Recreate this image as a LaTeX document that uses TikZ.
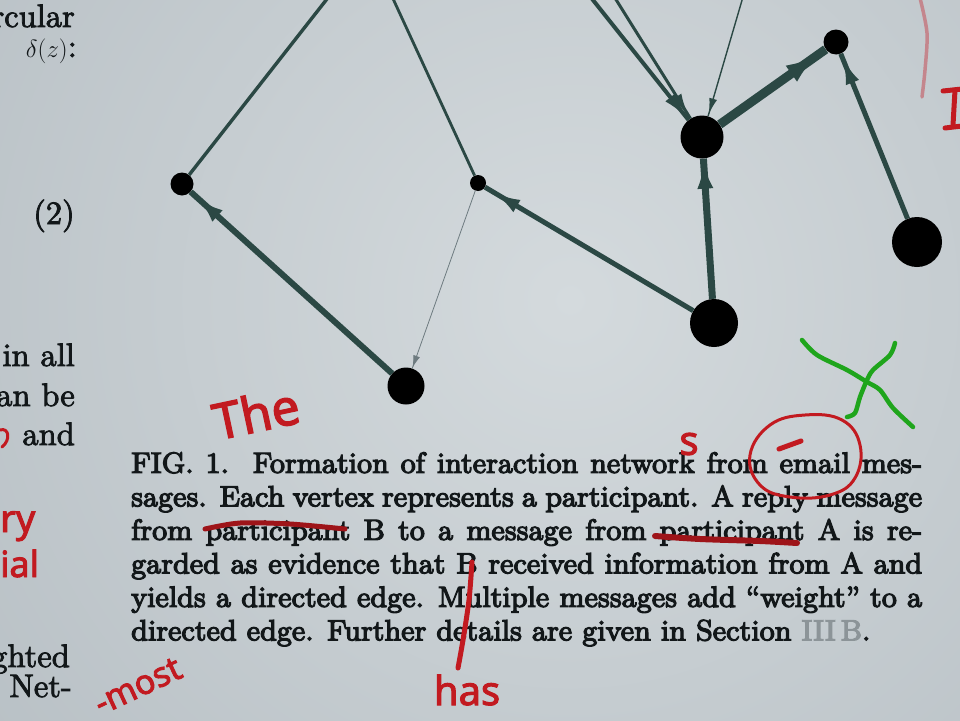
\documentclass[tikz,border=0pt]{standalone}
\usepackage{fontspec}
\newfontfamily\hand{Noto Sans}[FakeBold=2.5]
\newfontfamily\capfont{lmroman9-regular.otf}[Ligatures=TeX, FakeBold=4]
\newfontfamily\bodyfont{lmroman10-regular.otf}[Ligatures=TeX, FakeBold=2.5]
\usetikzlibrary{positioning,arrows.meta,decorations.markings}
\definecolor{paperlight}{HTML}{D4DADD}
\definecolor{paperdark}{HTML}{A9B2B8}
\definecolor{edgecol}{HTML}{2B4844}
\definecolor{faint}{HTML}{6E7B80}
\definecolor{ink}{HTML}{121719}
\definecolor{grayref}{HTML}{8C9498}
\definecolor{inkred}{HTML}{C21A20}
\definecolor{darkred}{HTML}{9E1419}
\definecolor{palered}{HTML}{C4868D}
\definecolor{marker}{HTML}{1FA51C}

\begin{document}
\begin{tikzpicture}[x=1pt, y=-1pt,
    vtx/.style={circle, fill=black, inner sep=0pt, minimum size=#1},
    link/.style={draw=edgecol, line width=#1},
    headat/.style n args={3}{postaction={decorate}, decoration={markings,
        mark=at position -#1 with {\arrow{Latex[length=#2, width=#3]}}}},
    pen/.style={draw=inkred, line width=#1, line cap=round, line join=round},
    word/.style={text=inkred, inner sep=0pt, font=\hand\fontsize{#1}{#1}\selectfont},
    margin/.style={text=ink, inner sep=0pt, anchor=base east,
        font=\bodyfont\fontsize{32.5}{39}\selectfont}]
\useasboundingbox (0,0) rectangle (960,720);
\shade[inner color=paperlight, outer color=paperdark] (570,300) circle [radius=1150pt];

% text of the page round the figure
\node[margin] (m1) at (75,27) {rcular};
\node[margin] (m2) at (77,57) {$\delta(z)$:};
\node[margin] (m3) at (75,224) {(2)};
\node[margin] (m4) at (75,366) {in all};
\node[margin] (m5) at (75,406) {an be};
\node[margin] (m6) at (75,445) {and};
\node[margin] (m7) at (70,667) {ghted};
\node[margin] (m8) at (72,697) {Net-};

% vertices
\node[vtx=23pt] (a) at (182,184) {};
\node[vtx=16pt] (b) at (478,183) {};
\node[vtx=37pt] (c) at (406,386) {};
\node[vtx=43pt] (d) at (702,137) {};
\node[vtx=25pt] (e) at (836,42) {};
\node[vtx=48pt] (f) at (714,323) {};
\node[vtx=50pt] (g) at (917,242) {};
\coordinate (ua) at (334,-10);
\coordinate (ub) at (389,-10);
\coordinate (ud1) at (585,-10);
\coordinate (ud2) at (610,-10);
\coordinate (ud3) at (745,-10);

% edges
\draw[link=3.4pt] (a) -- (ua);
\draw[link=2.8pt] (b) -- (ub);
\draw[link=6pt, headat={8pt}{28pt}{15pt}] (c) -- (a);
\draw[link=0.8pt, draw=faint, headat={1pt}{12pt}{7pt}] (b) -- (c);
\draw[link=5pt, headat={9pt}{28pt}{14pt}] (f) -- (b);
\draw[link=7pt, headat={2pt}{28pt}{16pt}] (f) -- (d);
\draw[link=9pt, headat={4pt}{38pt}{19pt}] (d) -- (e);
\draw[link=5pt, headat={3pt}{28pt}{14pt}] (g) -- (e);
\draw[link=4pt, headat={3pt}{26pt}{13pt}] (ud1) -- (d);
\draw[link=3pt, headat={4pt}{22pt}{11pt}] (ud2) -- (d);
\draw[link=1.4pt, headat={2pt}{16pt}{8pt}] (ud3) -- (d);

% caption
\node[text=ink, inner sep=0pt, anchor=north west, text width=791pt, align=justify,
      font=\capfont\fontsize{29.3}{33.5}\selectfont] (cap) at (131,452)
  {\hyphenpenalty=10000 \tolerance=9999
   FIG. 1.\ \ Formation of interaction network from email mes-\linebreak
   sages. Each vertex represents a participant. A reply message\linebreak
   from participant B to a message from participant A is re-\linebreak
   garded as evidence that B received information from A and\linebreak
   yields a directed edge. Multiple messages add ``weight'' to a\linebreak
   directed edge. Further details are given in Section {\color{grayref}III\,B}.};

% red pen
\node[word=50pt, rotate=12] (the) at (256,413) {The};
\node[word=40pt] (s) at (689,444) {s};
\node[word=40pt] (has) at (467,690) {has};
\node[word=34pt, rotate=25] (most) at (138,686) {-most};
\node[word=38pt, anchor=base west] (ry) at (0,532) {ry};
\node[word=36pt, anchor=base west] (ial) at (0,577) {ial};
\draw[pen=3pt] plot[smooth cycle, tension=0.7] coordinates
  {(750,455) (770,425) (805,415) (842,420) (860,445) (855,478) (830,495) (790,497) (760,485)};
\draw[pen=5pt] (779,449) -- (801,441);
\draw[pen=5pt, draw=darkred] plot[smooth] coordinates {(205,529) (240,523) (290,524) (345,529)};
\draw[pen=6pt, draw=darkred] plot[smooth] coordinates {(655,536) (700,539) (760,541) (797,543)};
\draw[pen=5pt] plot[smooth] coordinates {(472,562) (469,600) (463,640) (458,668)};
\draw[pen=3pt] (0,430) .. controls (9,427) and (11,440) .. (2,447);
\draw[pen=3.5pt, draw=palered] plot[smooth] coordinates {(920,-2) (927,33) (925,70) (922,97)};
\draw[pen=5pt] (943,91) -- (962,89);
\draw[pen=5pt] (955,90) -- (953,125);
\draw[pen=5pt] (945,128) -- (962,126);

% green marker
\draw[pen=4.5pt, draw=marker] plot[smooth] coordinates
  {(802,340) (817,355) (847,370) (867,382) (880,390) (893,408) (913,427)};
\draw[pen=4.5pt, draw=marker] plot[smooth] coordinates
  {(895,343) (890,355) (873,370) (867,380) (860,397) (855,413) (847,417)};
\end{tikzpicture}
\end{document}
